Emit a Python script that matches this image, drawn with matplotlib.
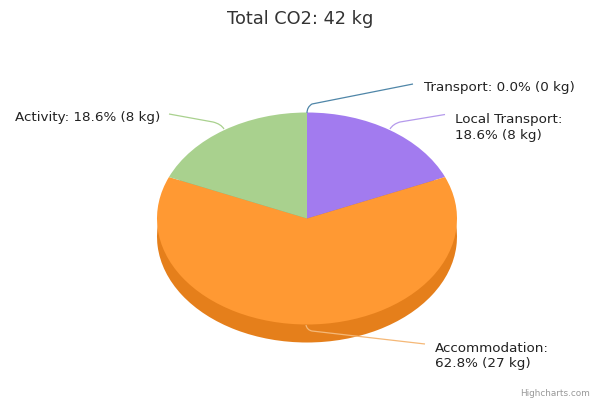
import matplotlib
matplotlib.use('Agg')
import matplotlib.pyplot as plt
from matplotlib.path import Path
from matplotlib.patches import PathPatch

categories = ['Transport', 'Local Transport', 'Accommodation', 'Activity']
co2_kg = [0, 8, 27, 8]
label_breaks = [False, True, True, False]
slice_colors = ['#4F86A8', '#A27BEF', '#FF9933', '#A9D18E']
side_colors = ['#3F6C88', '#8263C0', '#E57F1B', '#88A872']
line_colors = ['#4F86A8', '#B59AEC', '#F5B877', '#A9D18E']

# pie geometry in pixels
cx, cy, rx, ry, depth = 307, 218.5, 150, 106, 18

def px(x, y):
    return (x - cx) / rx, (cy - y) / ry

fig = plt.figure(figsize=(6, 4), dpi=100)
ax = fig.add_axes([0, 0, 1, 1])

# side of the disc first, then the top
ax.pie(co2_kg, colors=side_colors, startangle=90, counterclock=False,
       center=(0, -depth / ry), radius=1, frame=True)
ax.pie(co2_kg, colors=slice_colors, startangle=90, counterclock=False,
       center=(0, 0), radius=1, frame=True)
ax.set_aspect('auto')
ax.set_xlim(px(0, 0)[0], px(600, 0)[0])
ax.set_ylim(px(0, 400)[1], px(0, 0)[1])
ax.axis('off')

# connectors: label end, control point, pie edge
connectors = [
    [(413, 84), (312, 104), (307, 107), (307, 113)],
    [(445, 114.5), (400, 122), (393, 124), (390, 129)],
    [(425, 344), (312, 331), (307, 330), (306, 325)],
    [(169, 114), (213, 122), (221, 124), (224, 129)],
]
for pts, c in zip(connectors, line_colors):
    codes = [Path.MOVETO, Path.LINETO, Path.CURVE3, Path.CURVE3]
    ax.add_patch(PathPatch(Path([px(*p) for p in pts], codes), fc='none', ec=c, lw=0.9))

label_pos = [(424, 88, 'left'), (455, 127.5, 'left'), (435, 356, 'left'), (15, 118, 'left')]
total = sum(co2_kg)
for name, v, brk, (x, y, ha) in zip(categories, co2_kg, label_breaks, label_pos):
    sep = ':\n' if brk else ': '
    s = f'{name}{sep}{v / total * 100:.1f}% ({v} kg)'
    ax.text(*px(x, y), s, ha=ha, va='center', fontsize=9.7, color='#222222',
            family='DejaVu Sans', linespacing=1.25)

ax.text(*px(300, 19), 'Total CO2: 42 kg', ha='center', va='center', fontsize=12.8,
        color='#333333', family='DejaVu Sans')
ax.text(*px(590, 393), 'Highcharts.com', ha='right', va='center', fontsize=6.4,
        color='#999999', family='DejaVu Sans')

fig.savefig('out.png', dpi=100)
